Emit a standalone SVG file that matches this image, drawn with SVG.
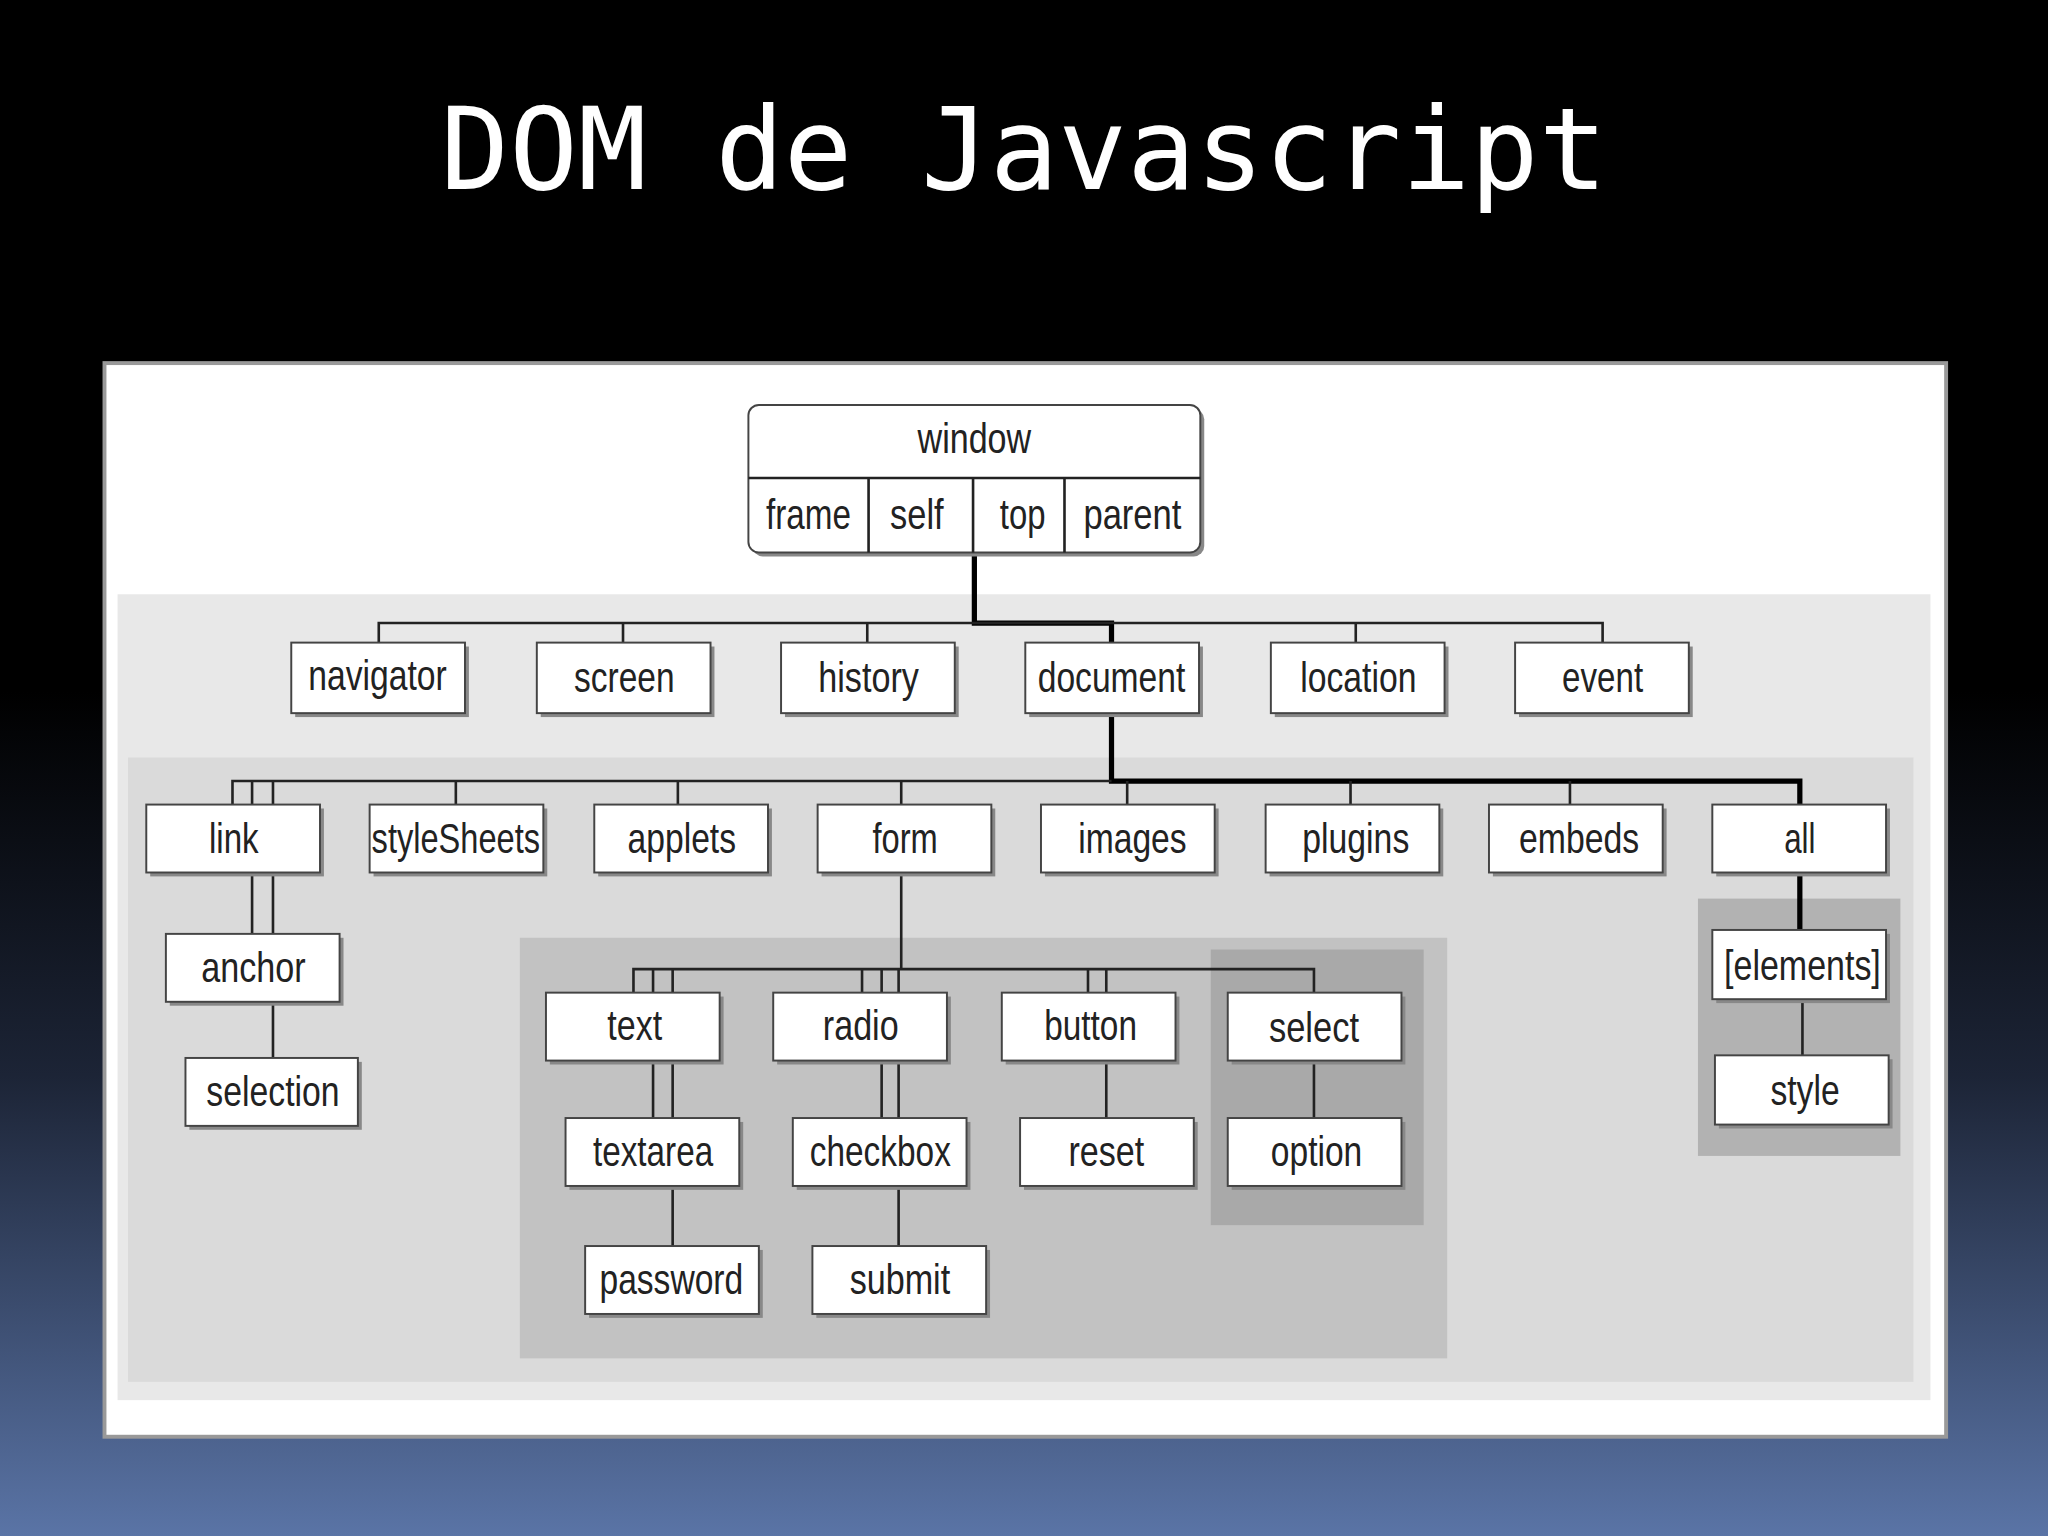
<svg xmlns="http://www.w3.org/2000/svg" width="2048" height="1536" viewBox="0 0 2048 1536">
<defs>
<linearGradient id="bg" x1="0" y1="0" x2="0" y2="1">
<stop offset="0" stop-color="#000"/><stop offset="0.45" stop-color="#000"/><stop offset="0.7" stop-color="#1c2436"/><stop offset="1" stop-color="#5a74a6"/>
</linearGradient>
<style>
.b{fill:#fff;stroke:#444;stroke-width:1.5}
.s{fill:#888}
.t{font-family:"Liberation Sans Narrow","Liberation Sans",Arial,sans-serif;font-size:32px;fill:#222;text-anchor:middle}
.l{stroke:#222;stroke-width:2;fill:none}
.k{stroke:#000;stroke-width:4;fill:none}
</style>
</defs>
<rect width="2048" height="1536" fill="url(#bg)"/>
<text x="1024" y="189" font-family="DejaVu Sans Mono,monospace" font-size="114" fill="#fff" text-anchor="middle">DOM de Javascript</text>
<g transform="scale(1.30612)">
<rect x="80" y="278" width="1410" height="822" fill="#fff" stroke="#999" stroke-width="3"/>
<rect x="90" y="455" width="1388" height="617" fill="#e8e8e8"/>
<rect x="98" y="580" width="1367" height="478" fill="#dadada"/>
<rect x="398" y="718" width="710" height="322" fill="#c2c2c2"/>
<rect x="927" y="727" width="163" height="211" fill="#a9a9a9"/>
<rect x="1300" y="688" width="155" height="197" fill="#b2b2b2"/>
<g id="connectors">
<path class="k" d="M746 423V477H851V492M851 546V598H1378V616M1378 668V712"/>
<path class="l" d="M290 492V477H1227V492M477 477V492M664 477V492M1038 477V492"/>
<path class="l" d="M178 616V598H851M178 598V616M193 598V616M209 598V616M349 598V616M519 598V616M690 598V616M863 598V616M1034 598V616M1202 598V616"/>
<path class="l" d="M193 668V715M209 668V715M209 767V810"/>
<path class="l" d="M690 668V742M485 760V742H1006V760M500 742V760M515 742V760M660 742V760M675 742V760M688 742V760M833 742V760M847 742V760"/>
<path class="l" d="M500 812V856M515 812V856M515 908V954M675 812V856M688 812V856M688 908V954M847 812V856M1006 812V856M1380 765V808"/>
</g>
<g id="window">
<rect x="576" y="313" width="346" height="113" rx="8" class="s"/>
<rect x="573" y="310" width="346" height="113" rx="8" class="b"/>
<path class="l" d="M573 366H919M665 366V423M745 366V423M815 366V423" stroke-width="1.5"/>
<text class="t" x="746" y="347" textLength="87" lengthAdjust="spacingAndGlyphs">window</text>
<text class="t" x="619" y="405" textLength="65" lengthAdjust="spacingAndGlyphs">frame</text>
<text class="t" x="702" y="405" textLength="41" lengthAdjust="spacingAndGlyphs">self</text>
<text class="t" x="783" y="405" textLength="35" lengthAdjust="spacingAndGlyphs">top</text>
<text class="t" x="867" y="405" textLength="75" lengthAdjust="spacingAndGlyphs">parent</text>
</g>
<g id="navigator"><rect x="226" y="495" width="133" height="54" class="s"/><rect x="223" y="492" width="133" height="54" class="b"/><text class="t" x="289" y="528" textLength="106" lengthAdjust="spacingAndGlyphs">navigator</text></g>
<g id="screen"><rect x="414" y="495" width="133" height="54" class="s"/><rect x="411" y="492" width="133" height="54" class="b"/><text class="t" x="478" y="530" textLength="77" lengthAdjust="spacingAndGlyphs">screen</text></g>
<g id="history"><rect x="601" y="495" width="133" height="54" class="s"/><rect x="598" y="492" width="133" height="54" class="b"/><text class="t" x="665" y="530" textLength="77" lengthAdjust="spacingAndGlyphs">history</text></g>
<g id="document"><rect x="788" y="495" width="133" height="54" class="s"/><rect x="785" y="492" width="133" height="54" class="b"/><text class="t" x="851" y="530" textLength="113" lengthAdjust="spacingAndGlyphs">document</text></g>
<g id="location"><rect x="976" y="495" width="133" height="54" class="s"/><rect x="973" y="492" width="133" height="54" class="b"/><text class="t" x="1040" y="530" textLength="89" lengthAdjust="spacingAndGlyphs">location</text></g>
<g id="event"><rect x="1163" y="495" width="133" height="54" class="s"/><rect x="1160" y="492" width="133" height="54" class="b"/><text class="t" x="1227" y="530" textLength="62" lengthAdjust="spacingAndGlyphs">event</text></g>
<g id="link"><rect x="115" y="619" width="133" height="52" class="s"/><rect x="112" y="616" width="133" height="52" class="b"/><text class="t" x="179" y="653" textLength="38" lengthAdjust="spacingAndGlyphs">link</text></g>
<g id="styleSheets"><rect x="286" y="619" width="133" height="52" class="s"/><rect x="283" y="616" width="133" height="52" class="b"/><text class="t" x="349" y="653" textLength="129" lengthAdjust="spacingAndGlyphs">styleSheets</text></g>
<g id="applets"><rect x="458" y="619" width="133" height="52" class="s"/><rect x="455" y="616" width="133" height="52" class="b"/><text class="t" x="522" y="653" textLength="83" lengthAdjust="spacingAndGlyphs">applets</text></g>
<g id="form"><rect x="629" y="619" width="133" height="52" class="s"/><rect x="626" y="616" width="133" height="52" class="b"/><text class="t" x="693" y="653" textLength="50" lengthAdjust="spacingAndGlyphs">form</text></g>
<g id="images"><rect x="800" y="619" width="133" height="52" class="s"/><rect x="797" y="616" width="133" height="52" class="b"/><text class="t" x="867" y="653" textLength="83" lengthAdjust="spacingAndGlyphs">images</text></g>
<g id="plugins"><rect x="972" y="619" width="133" height="52" class="s"/><rect x="969" y="616" width="133" height="52" class="b"/><text class="t" x="1038" y="653" textLength="82" lengthAdjust="spacingAndGlyphs">plugins</text></g>
<g id="embeds"><rect x="1143" y="619" width="133" height="52" class="s"/><rect x="1140" y="616" width="133" height="52" class="b"/><text class="t" x="1209" y="653" textLength="92" lengthAdjust="spacingAndGlyphs">embeds</text></g>
<g id="all"><rect x="1314" y="619" width="133" height="52" class="s"/><rect x="1311" y="616" width="133" height="52" class="b"/><text class="t" x="1378" y="653" textLength="24" lengthAdjust="spacingAndGlyphs">all</text></g>
<g id="anchor"><rect x="130" y="718" width="133" height="52" class="s"/><rect x="127" y="715" width="133" height="52" class="b"/><text class="t" x="194" y="752" textLength="80" lengthAdjust="spacingAndGlyphs">anchor</text></g>
<g id="selection"><rect x="145" y="813" width="132" height="52" class="s"/><rect x="142" y="810" width="132" height="52" class="b"/><text class="t" x="209" y="847" textLength="102" lengthAdjust="spacingAndGlyphs">selection</text></g>
<g id="text"><rect x="421" y="763" width="133" height="52" class="s"/><rect x="418" y="760" width="133" height="52" class="b"/><text class="t" x="486" y="796" textLength="42" lengthAdjust="spacingAndGlyphs">text</text></g>
<g id="radio"><rect x="595" y="763" width="133" height="52" class="s"/><rect x="592" y="760" width="133" height="52" class="b"/><text class="t" x="659" y="796" textLength="58" lengthAdjust="spacingAndGlyphs">radio</text></g>
<g id="button"><rect x="770" y="763" width="133" height="52" class="s"/><rect x="767" y="760" width="133" height="52" class="b"/><text class="t" x="835" y="796" textLength="71" lengthAdjust="spacingAndGlyphs">button</text></g>
<g id="select"><rect x="943" y="763" width="133" height="52" class="s"/><rect x="940" y="760" width="133" height="52" class="b"/><text class="t" x="1006" y="798" textLength="69" lengthAdjust="spacingAndGlyphs">select</text></g>
<g id="textarea"><rect x="436" y="859" width="133" height="52" class="s"/><rect x="433" y="856" width="133" height="52" class="b"/><text class="t" x="500" y="893" textLength="92" lengthAdjust="spacingAndGlyphs">textarea</text></g>
<g id="checkbox"><rect x="610" y="859" width="133" height="52" class="s"/><rect x="607" y="856" width="133" height="52" class="b"/><text class="t" x="674" y="893" textLength="108" lengthAdjust="spacingAndGlyphs">checkbox</text></g>
<g id="reset"><rect x="784" y="859" width="133" height="52" class="s"/><rect x="781" y="856" width="133" height="52" class="b"/><text class="t" x="847" y="893" textLength="58" lengthAdjust="spacingAndGlyphs">reset</text></g>
<g id="option"><rect x="943" y="859" width="133" height="52" class="s"/><rect x="940" y="856" width="133" height="52" class="b"/><text class="t" x="1008" y="893" textLength="70" lengthAdjust="spacingAndGlyphs">option</text></g>
<g id="password"><rect x="451" y="957" width="133" height="52" class="s"/><rect x="448" y="954" width="133" height="52" class="b"/><text class="t" x="514" y="991" textLength="110" lengthAdjust="spacingAndGlyphs">password</text></g>
<g id="submit"><rect x="625" y="957" width="133" height="52" class="s"/><rect x="622" y="954" width="133" height="52" class="b"/><text class="t" x="689" y="991" textLength="77" lengthAdjust="spacingAndGlyphs">submit</text></g>
<g id="elements"><rect x="1314" y="715" width="133" height="53" class="s"/><rect x="1311" y="712" width="133" height="53" class="b"/><text class="t" x="1380" y="750" textLength="120" lengthAdjust="spacingAndGlyphs">[elements]</text></g>
<g id="style"><rect x="1316" y="811" width="133" height="53" class="s"/><rect x="1313" y="808" width="133" height="53" class="b"/><text class="t" x="1382" y="846" textLength="53" lengthAdjust="spacingAndGlyphs">style</text></g>
</g>
</svg>
